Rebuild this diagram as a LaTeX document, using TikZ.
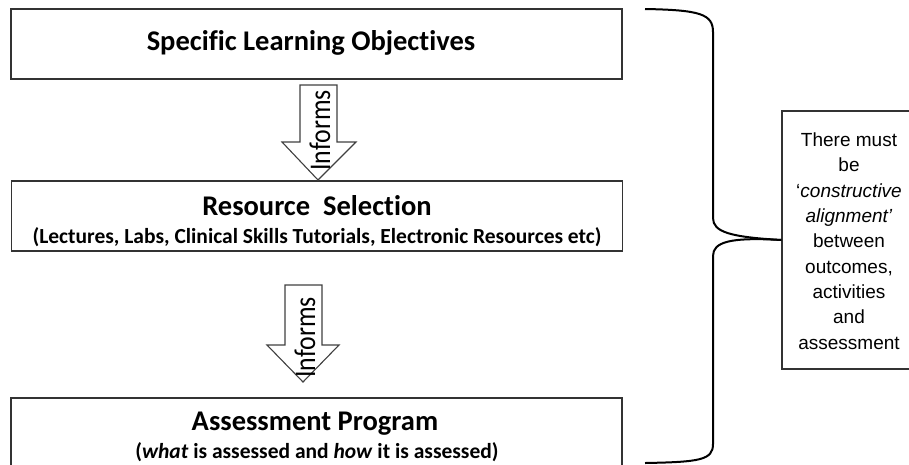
\documentclass[tikz,border=0pt]{standalone}
\usepackage{fontspec}
\setmainfont[Ligatures={NoCommon}]{Carlito}
\newfontfamily\arialf{Liberation Sans}
\begin{document}
\begin{tikzpicture}[x=1pt,y=-1pt,
  boxst/.style={draw=black!80,line width=1.4pt,minimum width=611pt,inner sep=0pt},
  titlest/.style={font=\fontsize{28.5}{30}\selectfont\bfseries,anchor=base,inner sep=0pt},
  subst/.style={font=\fontsize{21.5}{24}\selectfont\bfseries,anchor=base,inner sep=0pt},
  arrowst/.style={draw=black!75,line width=1.1pt,fill=white},
  informst/.style={rotate=90,inner sep=0pt,anchor=base,font=\fontsize{30}{32}\selectfont},
  bracest/.style={draw=black,line width=2pt}]
\useasboundingbox (0,0) rectangle (909,464);
\clip (0,0) rectangle (909,464);
% boxes
\node[boxst,minimum height=70pt] (b1) at (316.5,44) {};
\node[titlest] (t1) at (311,50) {Specific Learning\ Objectives};
\node[boxst,minimum height=70pt] (b2) at (317,216) {};
\node[titlest] (t2) at (317,215) {Resource\ \ Selection};
\node[subst] (s2) at (317,243) {(Lectures, Labs, Clinical Skills Tutorials, Electronic Resources etc)};
\node[boxst,minimum height=100pt] (b3) at (316.5,448) {};
\node[titlest] (t3) at (315,430) {Assessment\ Program};
\node[subst] (s3) at (317,458) {(\textit{what} is assessed and \textit{how} it is assessed)};
% block arrows
\draw[arrowst] (300,85) -- (337,85) -- (337,142) -- (356,142) -- (318,180) -- (282,142) -- (300,142) -- cycle;
\node[informst] (i1) at (330,130.5) {\scalebox{0.86}[1]{Informs}};
\draw[arrowst] (285,285) -- (322,285) -- (322,345) -- (339,345) -- (303,382) -- (267,345) -- (285,345) -- cycle;
\node[informst] (i2) at (315,337.5) {\scalebox{0.86}[1]{Informs}};
% right text box
\node[draw=black!80,line width=1.2pt,minimum width=132pt,minimum height=258pt,inner sep=0pt] (tb) at (848,240) {};
\node[font=\arialf\fontsize{19}{25.3}\selectfont,align=center,inner sep=0pt] (tx) at (849,241)
 {There must\\be\\‘\textit{constructive}\\\textit{alignment’}\\between\\outcomes,\\activities\\and\\assessment};
% brace
\coordinate (btop) at (645,9);
\coordinate (bbot) at (645,463);
\draw[bracest] (btop) .. controls (700,10) and (713,14) .. (713,32) -- (713,218)
  .. controls (713,232) and (730,237) .. (tb.west);
\draw[bracest] (tb.west) .. controls (730,237) and (713,242) .. (713,256) -- (713,444)
  .. controls (713,460) and (700,462) .. (bbot);
\end{tikzpicture}
\end{document}
